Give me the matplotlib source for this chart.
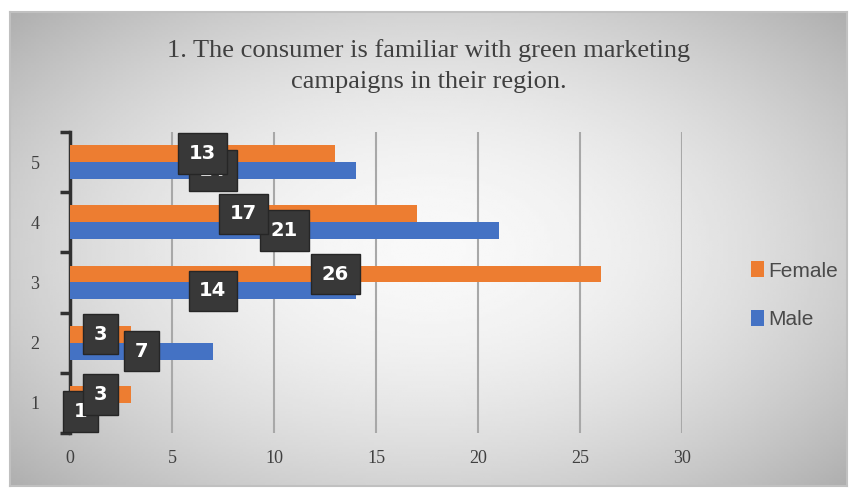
import numpy as np
import matplotlib
matplotlib.use("Agg")
import matplotlib.pyplot as plt

# values
categories = [1, 2, 3, 4, 5]
female = [3, 3, 26, 17, 13]
male = [1, 7, 14, 21, 14]
x_ticks = [0, 5, 10, 15, 20, 25, 30]

title = "1. The consumer is familiar with green marketing\ncampaigns in their region."

fig = plt.figure(figsize=(8.57, 4.96), dpi=100)
fig.patch.set_facecolor("white")

# gradient background panel
bg = fig.add_axes([0.012, 0.02, 0.976, 0.955])
yy, xx = np.mgrid[-1:1:200j, -1:1:300j]
r = np.sqrt((xx * 0.85) ** 2 + (yy * 0.8) ** 2)
shade = 0.975 - 0.22 * np.clip(r, 0, 1.3) ** 1.8
bg.imshow(shade, cmap="gray", vmin=0, vmax=1, aspect="auto", extent=[0, 1, 0, 1])
bg.set_xticks([])
bg.set_yticks([])
for s in bg.spines.values():
    s.set_color("#c0c0c0")
    s.set_linewidth(1.5)

ax = fig.add_axes([0.0817, 0.127, 0.7143, 0.607])
ax.patch.set_alpha(0)

h = 0.28
y = np.array(categories)
ax.barh(y - h / 2, male, height=h, color="#4472C4", label="Male", zorder=3)
ax.barh(y + h / 2, female, height=h, color="#ED7D31", label="Female", zorder=3)

box = dict(boxstyle="square,pad=0.55", facecolor="#383838", edgecolor="#262626")
for yi, v in zip(y, male):
    ax.text(v / 2, yi - h / 2, str(v), color="white", fontsize=14, fontweight="bold",
            family="DejaVu Sans", ha="center", va="center", bbox=box, zorder=5)
for yi, v in zip(y, female):
    ax.text(v / 2, yi + h / 2, str(v), color="white", fontsize=14, fontweight="bold",
            family="DejaVu Sans", ha="center", va="center", bbox=box, zorder=6)

ax.set_xlim(0, 30)
ax.set_ylim(0.5, 5.5)
ax.set_xticks(x_ticks)
ax.set_xticklabels([str(t) for t in x_ticks], family="Liberation Serif", fontsize=13, color="#404040")
ax.set_yticks(categories)
ax.set_yticklabels([str(c) for c in categories], family="Liberation Serif", fontsize=13, color="#404040")
ax.set_yticks(np.arange(0.5, 6.0, 1.0), minor=True)
ax.tick_params(axis="y", which="major", length=0, pad=22)
ax.tick_params(axis="y", which="minor", length=7, width=2.5, color="#303030", direction="out")
ax.tick_params(axis="x", length=0, pad=12)
ax.grid(axis="x", color="#a8a8a8", linewidth=1.5, zorder=0)
for name in ["top", "right", "bottom"]:
    ax.spines[name].set_visible(False)
ax.spines["left"].set_color("#303030")
ax.spines["left"].set_linewidth(2.5)

fig.text(0.5, 0.867, title, ha="center", va="center", family="Liberation Serif",
         fontsize=19, color="#404040", linespacing=1.5)

handles, labels = ax.get_legend_handles_labels()
fig.legend(handles[::-1], labels[::-1], loc="center left", bbox_to_anchor=(0.855, 0.405),
           frameon=False, prop={"family": "Liberation Sans", "size": 15},
           labelcolor="#4a4a4a", handlelength=0.6, handleheight=0.8, handletextpad=0.2,
           labelspacing=1.4)

fig.savefig("out.png", dpi=100)
